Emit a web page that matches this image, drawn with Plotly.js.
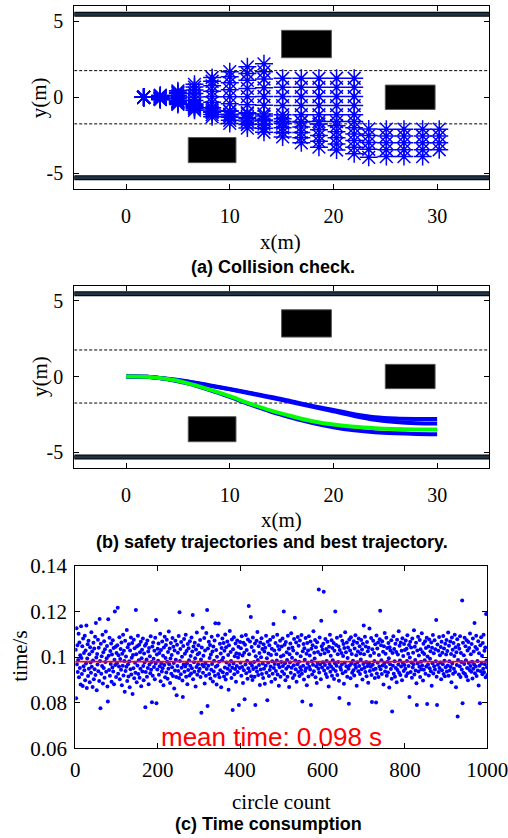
<!DOCTYPE html>
<html>
<head>
<meta charset="utf-8">
<script src="https://cdn.plot.ly/plotly-3.0.1.min.js"></script>
<style>
  html, body { margin: 0; padding: 0; background: #ffffff; }
  #chart { width: 508px; height: 838px; }
</style>
</head>
<body>
<div id="chart"></div>
<script>
// ---- road scene (metres) ----
const roadEdges = [5.45, -5.3];          // outer road boundaries
const laneLines = [1.75, -1.75];         // dashed lane separators
const obstacleX0 = [15.0, 25.0, 6.0];
const obstacleX1 = [19.8, 29.8, 10.6];
const obstacleY0 = [2.6, -0.8, -4.3];
const obstacleY1 = [4.4, 0.8, -2.65];

// ---- (a) sampled points of candidate trajectories ----
const stationX = [1.7, 3.3, 5.0, 6.6, 8.3, 10.0, 11.7, 13.3, 15.1, 16.9, 18.6, 20.3, 22.0, 23.4, 25.1, 26.8, 28.6, 30.2];
// lateral offset of each candidate at the stations above (shorter rows stop earlier)
const candidateY = [
  [0, 0.13, 0.42, 0.85, 1.30, 1.68, 2.00, 2.20],
  [0, 0.10, 0.33, 0.67, 1.05, 1.35, 1.56, 1.68],
  [0, 0.08, 0.24, 0.48, 0.75, 0.96, 1.11, 1.20, 1.25, 1.25, 1.25, 1.25, 1.25],
  [0, 0.04, 0.12, 0.25, 0.39, 0.50, 0.58, 0.62, 0.65, 0.65, 0.65, 0.65, 0.65],
  [0, 0.00, 0.01, 0.02, 0.03, 0.04, 0.04, 0.05, 0.05, 0.05, 0.05, 0.05, 0.05],
  [0, -0.03, -0.10, -0.21, -0.33, -0.42, -0.49, -0.53, -0.55, -0.55, -0.55, -0.55, -0.55],
  [0, -0.07, -0.22, -0.44, -0.69, -0.89, -1.02, -1.10, -1.15, -1.15, -1.15, -1.15, -1.15],
  [0, -0.10, -0.30, -0.61, -0.96, -1.23, -1.42, -1.54, -1.60, -1.60, -1.60, -1.60, -1.60],
  [0, -0.08, -0.25, -0.46, -0.69, -0.92, -1.09, -1.24, -1.41, -1.62, -1.76, -1.87, -2.00, -2.08, -2.10, -2.10, -2.10, -2.10],
  [0, -0.10, -0.31, -0.56, -0.84, -1.12, -1.33, -1.50, -1.71, -1.96, -2.14, -2.27, -2.42, -2.52, -2.55, -2.55, -2.55, -2.55],
  [0, -0.12, -0.36, -0.66, -0.99, -1.32, -1.56, -1.77, -2.01, -2.31, -2.52, -2.67, -2.85, -2.97, -3.00, -3.00, -3.00, -3.00],
  [0, -0.14, -0.41, -0.76, -1.14, -1.52, -1.79, -2.04, -2.31, -2.66, -2.90, -3.07, -3.28, -3.42, -3.45, -3.45, -3.45, -3.45],
  [0, -0.16, -0.47, -0.86, -1.29, -1.72, -2.03, -2.30, -2.61, -3.00, -3.28, -3.47, -3.71, -3.95, -3.90, -3.90, -3.90]
];

// ---- (b) safe trajectories and the selected one ----
const trajX = [0, 2, 4, 6, 8, 10, 12, 14, 16, 18, 20, 22, 24, 26, 28, 30];
const safeY1 = [0, -0.02, -0.15, -0.33, -0.58, -0.82, -1.08, -1.35, -1.65, -1.95, -2.20, -2.48, -2.68, -2.77, -2.80, -2.80];
const safeY2 = [0, -0.02, -0.16, -0.35, -0.60, -0.85, -1.12, -1.40, -1.70, -2.00, -2.30, -2.60, -2.85, -3.00, -3.08, -3.10];
const safeY3 = [0, -0.02, -0.18, -0.47, -0.88, -1.35, -1.86, -2.33, -2.72, -3.07, -3.35, -3.55, -3.68, -3.75, -3.79, -3.80];
const bestY  = [0, -0.02, -0.17, -0.45, -0.85, -1.30, -1.80, -2.25, -2.62, -2.95, -3.17, -3.32, -3.41, -3.46, -3.49, -3.50];

// ---- (c) planning time per cycle (s) ----
const cycleTime = [
0.1032,0.0819,0.1126,0.0968,0.1051,0.0934,0.0987,0.1102,0.0911,0.1064,
0.0952,0.1008,0.0879,0.1135,0.0996,0.0925,0.1047,0.0873,0.1081,0.0959,
0.1017,0.0942,0.1093,0.0898,0.1029,0.0971,0.1138,0.0864,0.0993,0.1056,
0.0917,0.1071,0.0948,0.1012,0.0889,0.1043,0.0976,0.0931,0.1108,0.0957,
0.1024,0.0869,0.0985,0.1062,0.0903,0.1037,0.0946,0.1089,0.0921,0.1149,
0.0998,0.0854,0.1013,0.0967,0.1076,0.0938,0.1041,0.0895,0.1167,0.0982,
0.0775,0.1058,0.0927,0.1003,0.0961,0.1097,0.0884,0.1021,0.0952,0.1069,
0.0909,0.1034,0.0978,0.1112,0.0935,0.0994,0.1048,0.0871,0.0805,0.1165,
0.1006,0.0943,0.1084,0.0918,0.1026,0.0969,0.1059,0.0892,0.1011,0.0954,
0.1073,0.0936,0.1039,0.0881,0.0988,0.1199,0.0965,0.1045,0.0912,0.1018,
0.0973,0.1052,0.1216,0.0927,0.1008,0.0958,0.1087,0.0902,0.0991,0.1035,
0.0944,0.1063,0.0876,0.1014,0.0962,0.1098,0.0919,0.1027,0.0983,0.0848,
0.1071,0.0939,0.1002,0.0957,0.1118,0.0895,0.1043,0.0968,0.0915,0.1056,
0.0981,0.0867,0.1029,0.0946,0.1085,0.0923,0.0997,0.1061,0.0838,0.1009,
0.0951,0.1076,0.0907,0.1038,0.0975,0.0931,0.1206,0.1012,0.0889,0.1047,
0.0963,0.1093,0.0926,0.0986,0.1054,0.0909,0.1021,0.0948,0.1067,0.0872,
0.0995,0.1032,0.0937,0.1081,0.0961,0.0898,0.1015,0.0976,0.1049,0.0780,
0.0934,0.1058,0.0989,0.0913,0.1072,0.0952,0.1024,0.0881,0.1039,0.0967,
0.1003,0.0929,0.1091,0.0944,0.0978,0.0802,0.1046,0.0918,0.1063,0.0992,
0.0956,0.1027,0.0903,0.1084,0.0971,0.1162,0.0797,0.1011,0.0945,0.1036,
0.0984,0.1059,0.0922,0.1017,0.0959,0.1102,0.0894,0.1031,0.0973,0.0937,
0.1068,0.0951,0.1005,0.0876,0.1042,0.0965,0.1089,0.0911,0.0996,0.1053,
0.0932,0.1076,0.0979,0.0905,0.1022,0.0948,0.1112,0.0968,0.1037,0.0886,
0.0993,0.1061,0.0927,0.1009,0.0955,0.1083,0.0917,0.1045,0.0974,0.0862,
0.1028,0.0941,0.1071,0.0988,0.0912,0.0832,0.1054,0.0961,0.1019,0.0939,
0.1092,0.0908,0.1196,0.0982,0.1035,0.0924,0.1066,0.0953,0.1001,0.0897,
0.0825,0.1048,0.0967,0.1079,0.0935,0.1014,0.0958,0.1097,0.0914,0.1026,
0.0972,0.0881,0.1057,0.0943,0.1038,0.0986,0.0919,0.1069,0.0962,0.1004,
0.0928,0.1085,0.0951,0.1024,0.1184,0.0903,0.1046,0.0977,0.0935,0.1062,
0.0994,0.0871,0.1033,0.0956,0.1107,0.0922,0.1012,0.0968,0.1051,0.0939,
0.1018,0.0949,0.1074,0.0912,0.0989,0.0756,0.1042,0.0966,0.1128,0.0931,
0.1006,0.0958,0.1083,0.0884,0.1029,0.0973,0.0918,0.1105,0.0947,0.1206,
0.0785,0.1037,0.0962,0.1067,0.0925,0.0996,0.1053,0.0906,0.1011,0.0944,
0.1089,0.0969,0.1024,0.0893,0.1046,0.0937,0.0984,0.1072,0.0918,0.1148,
0.0957,0.1031,0.0879,0.1001,0.0963,0.1094,0.0926,0.1147,0.0979,0.0911,
0.1058,0.0942,0.1015,0.0868,0.1039,0.0986,0.1081,0.0933,0.0997,0.1061,
0.0915,0.1027,0.0954,0.1099,0.0901,0.1043,0.0976,0.0927,0.1068,0.0948,
0.1009,0.0856,0.1052,0.0965,0.1114,0.0939,0.1022,0.0982,0.0908,0.1077,
0.0953,0.0768,0.1034,0.0971,0.1087,0.0924,0.1003,0.0947,0.1059,0.0892,
0.1016,0.0961,0.1072,0.0934,0.0998,0.1045,0.0790,0.1013,0.0952,0.1066,
0.0975,0.1038,0.0918,0.1091,0.0956,0.1007,0.0886,0.1062,0.0942,0.1019,
0.0815,0.1054,0.0967,0.1096,0.0929,0.1031,0.0984,0.0905,0.1077,0.0951,
0.1223,0.1012,0.0938,0.1068,0.0973,0.1175,0.0916,0.1044,0.0962,0.0899,
0.1085,0.0947,0.1026,0.0978,0.0913,0.1059,0.0790,0.1003,0.0954,0.1071,
0.0936,0.1109,0.0987,0.0921,0.1047,0.0965,0.1018,0.0877,0.1063,0.0945,
0.0999,0.1082,0.0926,0.1035,0.0971,0.0908,0.1056,0.0949,0.1024,0.0883,
0.1041,0.0962,0.1093,0.0931,0.0994,0.0810,0.1067,0.0975,0.1015,0.0917,
0.1052,0.0943,0.1076,0.0958,0.1009,0.0892,0.1036,0.0981,0.0927,0.1088,
0.1145,0.0952,0.1029,0.0969,0.0904,0.1061,0.0939,0.1012,0.0985,0.1097,
0.0923,0.1048,0.0966,0.0874,0.1033,0.0955,0.1071,0.0913,0.1002,0.0978,
0.1046,0.0937,0.1081,0.0961,0.1008,0.1199,0.0925,0.1054,0.0973,0.0898,
0.1066,0.0949,0.1021,0.0987,0.0914,0.1093,0.0958,0.1037,0.0869,0.1012,
0.0976,0.1059,0.0931,0.1104,0.0953,0.0997,0.1042,0.0908,0.1028,0.0964,
0.1079,0.0921,0.1172,0.0985,0.0946,0.1063,0.0892,0.1015,0.0968,0.1088,
0.0934,0.1049,0.0979,0.0917,0.1072,0.0955,0.1003,0.0943,0.1096,0.0927,
0.0805,0.1025,0.0962,0.1057,0.0901,0.1038,0.0988,0.0939,0.1083,0.0951,
0.1014,0.0876,0.1061,0.0972,0.1029,0.0915,0.1091,0.0957,0.1007,0.0945,
0.1068,0.0790,0.1036,0.0981,0.0923,0.1052,0.0966,0.1113,0.0938,0.1019,
0.0993,0.1074,0.0911,0.1043,0.0959,0.0886,0.1065,0.0974,0.1022,0.0948,
0.1296,0.0932,0.1085,0.0967,0.1011,0.0903,0.1159,0.1047,0.0954,0.1032,
0.0977,0.1058,0.1286,0.0941,0.1016,0.0965,0.1079,0.0926,0.1035,0.0983,
0.0912,0.1067,0.0952,0.1024,0.0871,0.1045,0.0969,0.1098,0.0935,0.1006,
0.0958,0.1073,0.0918,0.1039,0.0986,0.0947,0.1061,0.0904,0.1027,0.0973,
0.1199,0.0939,0.1053,0.0962,0.1084,0.0921,0.1012,0.0978,0.1046,0.0896,
0.0820,0.1031,0.0955,0.1092,0.0944,0.1018,0.0967,0.1071,0.0929,0.1004,
0.1057,0.0883,0.1039,0.0975,0.1108,0.0936,0.1021,0.0959,0.1064,0.0913,
0.0996,0.1042,0.0948,0.0795,0.1077,0.0963,0.1029,0.0907,0.1086,0.0971,
0.1013,0.0931,0.1055,0.0984,0.0942,0.1069,0.0919,0.1037,0.0966,0.1095,
0.0953,0.1008,0.0874,0.1062,0.0977,0.1024,0.0938,0.1081,0.0961,0.1047,
0.0925,0.1015,0.0989,0.1074,0.0946,0.1033,0.0901,0.1058,0.0969,0.1138,
0.1012,0.0953,0.1089,0.0934,0.1046,0.0978,0.0916,0.1066,0.0961,0.1025,
0.0887,0.1041,0.0972,0.1125,0.0939,0.1006,0.0957,0.1083,0.0921,0.0803,
0.1034,0.0966,0.1071,0.0944,0.1018,0.0982,0.0908,0.1056,0.0949,0.0801,
0.1094,0.0928,0.1037,0.0975,0.1063,0.0912,0.1009,0.0958,0.1078,0.1203,
0.0946,0.1052,0.0986,0.0925,0.1069,0.0963,0.1023,0.0879,0.1047,0.0971,
0.1105,0.0937,0.1014,0.0956,0.1084,0.0918,0.1039,0.0979,0.0932,0.1061,
0.0994,0.0866,0.1043,0.0968,0.1028,0.0947,0.1073,0.0905,0.0761,0.1017,
0.0962,0.1091,0.0927,0.1035,0.0981,0.0914,0.1058,0.0952,0.1022,0.0889,
0.1076,0.0943,0.1011,0.0967,0.1113,0.0931,0.1049,0.0985,0.0921,0.1064,
0.0958,0.1027,0.0898,0.1082,0.0974,0.1004,0.0939,0.1057,0.0965,0.1031,
0.0948,0.1072,0.0917,0.1036,0.0983,0.1095,0.0929,0.1014,0.0961,0.1053,
0.0825,0.0998,0.1067,0.0934,0.1042,0.0976,0.0909,0.1081,0.0954,0.1019,
0.0968,0.1117,0.0923,0.1045,0.0987,0.0941,0.1062,0.0885,0.0790,0.1028,
0.0971,0.1089,0.0936,0.1007,0.0957,0.1075,0.0912,0.1034,0.0979,0.0946,
0.1104,0.0963,0.1021,0.0897,0.1058,0.0944,0.1013,0.0986,0.1069,0.0927,
0.1039,0.0958,0.1084,0.0794,0.1002,0.0967,0.1046,0.0919,0.1077,0.0951,
0.0992,0.1025,0.0938,0.1063,0.0874,0.1041,0.0973,0.1096,0.0928,0.1016,
0.0959,0.1073,0.0945,0.1034,0.0981,0.1162,0.0913,0.0790,0.1055,0.0966,
0.1027,0.0934,0.1088,0.0952,0.1008,0.0976,0.1044,0.0903,0.1067,0.0942,
0.1019,0.0968,0.1092,0.0925,0.1037,0.0984,0.0916,0.1058,0.0955,0.1011,
0.1074,0.0937,0.1026,0.0963,0.1107,0.0918,0.1049,0.0981,0.0941,0.1068,
0.0956,0.1013,0.0889,0.1085,0.0972,0.1032,0.0927,0.1061,0.0948,0.1004,
0.1097,0.0934,0.1043,0.0867,0.1021,0.0965,0.1078,0.0739,0.0987,0.1053,
0.0923,0.1036,0.0959,0.1091,0.0912,0.1018,0.0978,0.0945,0.1247,0.0797,
0.1062,0.0931,0.1008,0.0969,0.1084,0.0926,0.1047,0.0986,0.0915,0.1073,
0.0952,0.1029,0.0898,0.1066,0.0974,0.1039,0.0943,0.1103,0.0961,0.1012,
0.0935,0.1057,0.0979,0.0906,0.1081,0.0948,0.1024,0.0967,0.1149,0.0929,
0.1044,0.0958,0.1093,0.0917,0.1035,0.0983,0.0941,0.1069,0.0875,0.1016,
0.0962,0.0797,0.1052,0.0938,0.1087,0.0971,0.1005,0.0924,0.1061,0.0949,
0.1098,0.0933,0.1027,0.0968,0.1042,0.0911,0.1188,0.0984,0.0955,0.0921
];
const meanTime = 0.098;

// tick labels
const roadTickVals = [-5, 0, 5];
const roadTickText = ['-5', '0', '5'];
const distTickVals = [0, 10, 20, 30];
const timeTickVals = [0.06, 0.08, 0.1, 0.12, 0.14];
const timeTickText = ['0.06', '0.08', '0.1', '0.12', '0.14'];
const countTickVals = [0, 200, 400, 600, 800, 1000];

// ---- styling ----
const serif = 'Liberation Serif';
const sans = 'Liberation Sans';
const BLUE = '#0000ff';
const H = 838, W = 508;
const px = v => v / W;
const py = v => 1 - v / H;

const traces = [];

function roadScene(xa, ya) {
  roadEdges.forEach(y => {
    traces.push({ x: [-5, 35], y: [y, y], xaxis: xa, yaxis: ya, mode: 'lines',
      line: { color: '#000000', width: 5 }, hoverinfo: 'skip', showlegend: false });
    traces.push({ x: [-5, 35], y: [y, y], xaxis: xa, yaxis: ya, mode: 'lines',
      line: { color: '#1e3346', width: 3 }, hoverinfo: 'skip', showlegend: false });
  });
  laneLines.forEach(y => {
    traces.push({ x: [-5, 35], y: [y, y], xaxis: xa, yaxis: ya, mode: 'lines',
      line: { color: '#000000', width: 1, dash: '3px,2px' }, hoverinfo: 'skip', showlegend: false });
  });
}

// (a)
roadScene('x', 'y');
candidateY.forEach(ys => {
  traces.push({
    x: stationX.slice(0, ys.length), y: ys, xaxis: 'x', yaxis: 'y',
    mode: 'markers', hoverinfo: 'skip', showlegend: false,
    marker: { symbol: 'asterisk-open', size: 15, color: BLUE, line: { color: BLUE, width: 1.5 } }
  });
});

// (b)
roadScene('x2', 'y2');
[safeY1, safeY2, safeY3].forEach(ys => {
  traces.push({ x: trajX, y: ys, xaxis: 'x2', yaxis: 'y2', mode: 'lines',
    line: { color: BLUE, width: 4, shape: 'spline' }, hoverinfo: 'skip', showlegend: false });
});
traces.push({ x: trajX, y: bestY, xaxis: 'x2', yaxis: 'y2', mode: 'lines',
  line: { color: '#00ff00', width: 4, shape: 'spline' }, hoverinfo: 'skip', showlegend: false });

// (c)
traces.push({
  x: cycleTime.map((_, i) => i + 1), y: cycleTime, xaxis: 'x3', yaxis: 'y3',
  mode: 'markers', marker: { color: BLUE, size: 4 }, hoverinfo: 'skip', showlegend: false
});
traces.push({ x: [0, 1000], y: [meanTime, meanTime], xaxis: 'x3', yaxis: 'y3', mode: 'lines',
  line: { color: '#ff0000', width: 1.8 }, hoverinfo: 'skip', showlegend: false });

// axes
const tickFontA = { family: serif, size: 20, color: '#000000' };
const tickFontC = { family: serif, size: 21, color: '#000000' };
function frame(extra) {
  return Object.assign({
    showline: true, linecolor: '#000000', linewidth: 1, mirror: 'ticks',
    ticks: 'inside', ticklen: 5, tickwidth: 1, tickcolor: '#000000',
    showgrid: false, zeroline: false, fixedrange: true, ticklabeloverflow: 'allow',
    tickfont: Object.assign({}, tickFontA)
  }, extra);
}

const shapes = [];
[['x', 'y'], ['x2', 'y2']].forEach(([xa, ya]) => {
  obstacleX0.forEach((x0, i) => {
    shapes.push({ type: 'rect', xref: xa, yref: ya, x0: x0, x1: obstacleX1[i],
      y0: obstacleY0[i], y1: obstacleY1[i], fillcolor: '#000000',
      line: { color: '#555555', width: 1 }, layer: 'above' });
  });
});

function note(text, x, y, font, extra) {
  return Object.assign({ text: text, xref: 'paper', yref: 'paper', x: x, y: y,
    xanchor: 'center', yanchor: 'middle', showarrow: false, font: font }, extra || {});
}
const titleFont = { family: serif, size: 21, color: '#000000' };
const capFont = { family: sans, size: 18, color: '#000000', weight: 'bold' };

const layout = {
  width: W, height: H, margin: { l: 0, r: 0, t: 0, b: 0 },
  font: { family: serif, size: 20, color: '#000000' },
  paper_bgcolor: '#ffffff', plot_bgcolor: '#ffffff', showlegend: false,
  xaxis: frame({ domain: [px(74.2), px(489)], range: [-5, 35], tickvals: distTickVals, anchor: 'y', ticklabelstandoff: 9 }),
  yaxis: frame({ domain: [py(188.5), py(6)], range: [-6, 6], tickvals: roadTickVals, ticktext: roadTickText, anchor: 'x', ticklabelstandoff: 6 }),
  xaxis2: frame({ domain: [px(74.2), px(489)], range: [-5, 35], tickvals: distTickVals, anchor: 'y2', ticklabelstandoff: 9 }),
  yaxis2: frame({ domain: [py(467.5), py(285.5)], range: [-6, 6], tickvals: roadTickVals, ticktext: roadTickText, anchor: 'x2', ticklabelstandoff: 6 }),
  xaxis3: frame({ domain: [px(75.3), px(487.3)], range: [0, 1000], tickvals: countTickVals, anchor: 'y3', ticklabelstandoff: 2, tickfont: tickFontC }),
  yaxis3: frame({ domain: [py(748.3), py(565.7)], range: [0.06, 0.14], tickvals: timeTickVals, ticktext: timeTickText, anchor: 'x3', ticklabelstandoff: 3, tickfont: tickFontC }),
  shapes: shapes,
  annotations: [
    note('x(m)', px(280), py(242), titleFont),
    note('y(m)', px(39.3), py(98), titleFont, { textangle: -90 }),
    note('(a) Collision check.', px(273), py(266.7), capFont),
    note('x(m)', px(281), py(520), titleFont),
    note('y(m)', px(39.3), py(376.7), titleFont, { textangle: -90 }),
    note('(b) safety trajectories and best trajectory.', px(271.7), py(541.7), capFont),
    note('circle count', px(281), py(801.7), titleFont),
    note('time/s', px(20), py(656.7), titleFont, { textangle: -90 }),
    note('(c) Time consumption', px(268), py(824), capFont),
    { text: 'mean time: ' + meanTime.toFixed(3) + ' s', xref: 'x3', yref: 'y3', x: 477, y: 0.0648,
      xanchor: 'center', yanchor: 'middle', showarrow: false,
      font: { family: sans, size: 26, color: '#ff0000' } }
  ]
};

Plotly.newPlot('chart', traces, layout, { staticPlot: true, displayModeBar: false });
</script>
</body>
</html>
